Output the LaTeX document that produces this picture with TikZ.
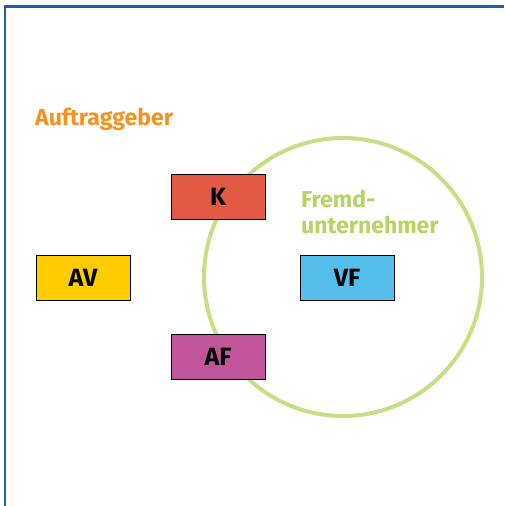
\documentclass[tikz,border=0pt]{standalone}
\usepackage{fontspec}
\setmainfont{Fira Sans}
\definecolor{frameblue}{RGB}{30,95,175}
\definecolor{orangetxt}{RGB}{246,146,30}
\definecolor{greencirc}{RGB}{198,223,132}
\definecolor{greentxt}{RGB}{180,212,100}
\definecolor{kred}{RGB}{226,90,68}
\definecolor{avyellow}{RGB}{255,204,0}
\definecolor{vfblue}{RGB}{84,190,236}
\definecolor{afmag}{RGB}{192,85,154}
\begin{document}
\begin{tikzpicture}[x=1pt,y=-1pt,
  rolebox/.style={draw=black,line width=1pt,minimum width=94pt,minimum height=45pt,inner sep=0pt,font=\fontsize{25}{28}\selectfont\bfseries},
  grouplabel/.style={font=\fontsize{23}{26}\selectfont\bfseries,inner sep=0pt,align=left}]
\useasboundingbox (0,0) rectangle (504,506);
\draw[frameblue,line width=2.5pt] (5,506) coordinate (fbl) -- (5,6.5) coordinate (ftl) -- (504,6.5) coordinate (ftr);
\node[draw=greencirc,line width=4pt,circle,minimum size=278pt,inner sep=0pt] (circ) at (343,277) {};
\node[grouplabel,text=orangetxt,anchor=base west] (ag) at (35,125) {Auftraggeber};
\node[grouplabel,text=greentxt,anchor=base west] (fu) at (301,233) {Fremd-\\unternehmer};
\node[rolebox,fill=kred] (K) at (218,196.5) {K};
\node[rolebox,fill=avyellow] (AV) at (83,277.5) {AV};
\node[rolebox,fill=vfblue] (VF) at (347,277.5) {VF};
\node[rolebox,fill=afmag] (AF) at (218,357) {AF};
\end{tikzpicture}
\end{document}
